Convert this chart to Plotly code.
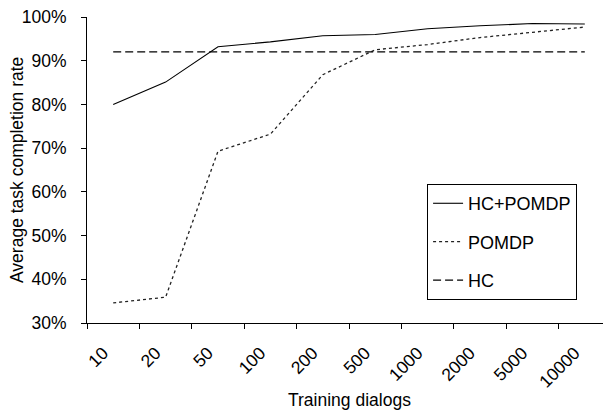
import plotly.graph_objects as go

categories = ["10", "20", "50", "100", "200", "500", "1000", "2000", "5000", "10000"]
hc_pomdp = [0.800, 0.851, 0.932, 0.943, 0.957, 0.960, 0.973, 0.980, 0.985, 0.984]
pomdp = [0.346, 0.359, 0.693, 0.732, 0.868, 0.925, 0.937, 0.953, 0.965, 0.977]
hc = [0.920] * 10
y_ticks = [0.3, 0.4, 0.5, 0.6, 0.7, 0.8, 0.9, 1.0]
y_tick_labels = ["30%", "40%", "50%", "60%", "70%", "80%", "90%", "100%"]

font = "Liberation Sans, Arial, sans-serif"

fig = go.Figure()
fig.add_trace(go.Scatter(x=categories, y=hc_pomdp, mode="lines", name="HC+POMDP",
                         line=dict(color="black", width=1.1), legendgroup="a"))
fig.add_trace(go.Scatter(x=categories, y=pomdp, mode="lines", name="POMDP",
                         line=dict(color="#222", width=1.3, dash="dot"), legendgroup="b"))
fig.add_trace(go.Scatter(x=categories, y=hc, mode="lines", name="HC",
                         line=dict(color="black", width=1.3, dash="8px,4px"), legendgroup="c"))

# page body has an 8px margin, so the figure is 8px smaller and offsets reduced by 8
fig.update_layout(
    width=603, height=403,
    margin=dict(l=79, r=0, t=9, b=88, autoexpand=False),
    plot_bgcolor="white", paper_bgcolor="white",
    font=dict(family=font, size=17.5, color="black"),
    showlegend=True,
    legend=dict(x=0.649, y=0.454, xanchor="left", yanchor="top",
                bordercolor="black", borderwidth=1, bgcolor="white",
                font=dict(size=18), tracegroupgap=12,
                itemwidth=30),
    annotations=[
        dict(text="Average task completion rate", xref="paper", yref="paper",
             x=0, y=0.5, xanchor="center", yanchor="middle", xshift=-70,
             textangle=-90, showarrow=False, font=dict(size=17.5)),
        dict(text="Training dialogs", xref="paper", yref="paper",
             x=0.5, y=0, xanchor="center", yanchor="middle", yshift=-77,
             showarrow=False, font=dict(size=17.5)),
    ],
)
fig.update_xaxes(
    type="category", range=[-0.5, 9.5], automargin=False,
    showline=True, linecolor="black", linewidth=1,
    ticks="outside", tickson="boundaries", ticklen=5, tickcolor="black",
    tickangle=-45, showgrid=False, zeroline=False,
    ticklabelstandoff=12, ticklabelshift=-10, ticklabeloverflow="allow",
    tickfont=dict(size=17.5),
)
fig.update_yaxes(
    range=[0.3, 1.0], tickmode="array", tickvals=y_ticks, ticktext=y_tick_labels,
    automargin=False, ticklabeloverflow="allow",
    showline=True, linecolor="black", linewidth=1,
    ticks="outside", ticklen=5, tickcolor="black", ticklabelstandoff=11,
    showgrid=False, zeroline=False,
    tickfont=dict(size=17.5),
)

fig.write_html("out.html")
